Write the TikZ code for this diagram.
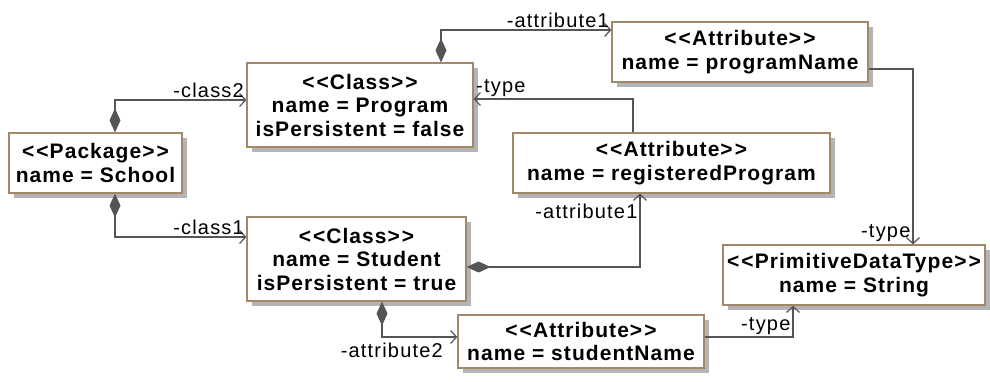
\documentclass[tikz,border=0pt]{standalone}
\usepackage{fontspec}
\setmainfont{Liberation Sans}[LetterSpace=6]
\newfontfamily\boxfont{Liberation Sans}[LetterSpace=5]
\usetikzlibrary{arrows.meta,shadows}
\definecolor{boxline}{HTML}{A08868}
\definecolor{shadowgray}{HTML}{B4B4B4}
\definecolor{wire}{HTML}{555555}
\newcommand{\stereo}[1]{<\kern2pt<#1>\kern2pt>}

\begin{document}
\begin{tikzpicture}[x=1pt,y=-1pt]
        \tikzstyle{every node}=[inner sep=0pt]
        \tikzstyle{umlbox}=[draw=boxline, line width=1.2pt, fill=white, align=center,
            font=\boxfont\bfseries\fontsize{21}{23.5}\selectfont,
            drop shadow={shadow xshift=5pt, shadow yshift=-5pt, fill=shadowgray, opacity=1}]
        \tikzstyle{lbl}=[inner sep=2pt, font=\fontsize{20}{22}\selectfont]
        \tikzstyle{assoc}=[draw=wire, line width=1.2pt, -{Straight Barb[length=6pt,width=13pt]}]
        \tikzstyle{comp}=[assoc, {Diamond[length=24pt,width=11pt]}-{Straight Barb[length=6pt,width=13pt]}]
        \useasboundingbox (0,0) rectangle (990,381);
        \node[umlbox, minimum width=173pt, minimum height=60pt] (pkg) at (95.5,163) {\stereo{Package}\\name = School};
        \node[umlbox, minimum width=226pt, minimum height=84pt] (prog) at (360,105) {\stereo{Class}\\name = Program\\isPersistent = false};
        \node[umlbox, minimum width=219pt, minimum height=84pt] (stu) at (356.5,259) {\stereo{Class}\\name = Student\\isPersistent = true};
        \node[umlbox, minimum width=256pt, minimum height=60pt] (pn) at (740,52) {\stereo{Attribute}\\name = programName};
        \node[umlbox, minimum width=317pt, minimum height=60pt] (rp) at (671.5,163) {\stereo{Attribute}\\name = registeredProgram};
        \node[umlbox, minimum width=246pt, minimum height=53pt] (sn) at (581,341.5) {\stereo{Attribute}\\name = studentName};
        \node[umlbox, minimum width=262pt, minimum height=60pt] (pdt) at (854,275) {\stereo{PrimitiveDataType}\\name = String};
        \draw[comp] ([xshift=19.5pt]pkg.north) |- node[lbl, pos=1, above left] {-class2} ([yshift=5pt]prog.west);
        \draw[comp] ([xshift=19.5pt]pkg.south) |- node[lbl, pos=1, above left] {-class1} ([yshift=22pt]stu.west);
        \draw[comp] ([xshift=81pt]prog.north) |- node[lbl, pos=1, above left] {-attribute1} ([yshift=22pt]pn.west);
        \draw[assoc] ([xshift=-38.5pt]rp.north) |- node[lbl, pos=1, above right] {-type} ([yshift=6pt]prog.east);
        \draw[comp] ([yshift=-8pt]stu.east) -| node[lbl, pos=1, below left, yshift=-8pt] {-attribute1} ([xshift=-31.5pt]rp.south);
        \draw[comp] ([xshift=25.5pt]stu.south) |- node[lbl, pos=1, below left, xshift=-12pt, yshift=-3pt] {-attribute2} ([yshift=4.5pt]sn.west);
        \draw[assoc] ([yshift=4.5pt]sn.east) -| node[lbl, pos=0.5, above left] {-type} ([xshift=-61pt]pdt.south);
        \draw[assoc] ([yshift=-17pt]pn.east) -| node[lbl, pos=1, above left] {-type} ([xshift=59pt]pdt.north);
    \end{tikzpicture}
\end{document}
